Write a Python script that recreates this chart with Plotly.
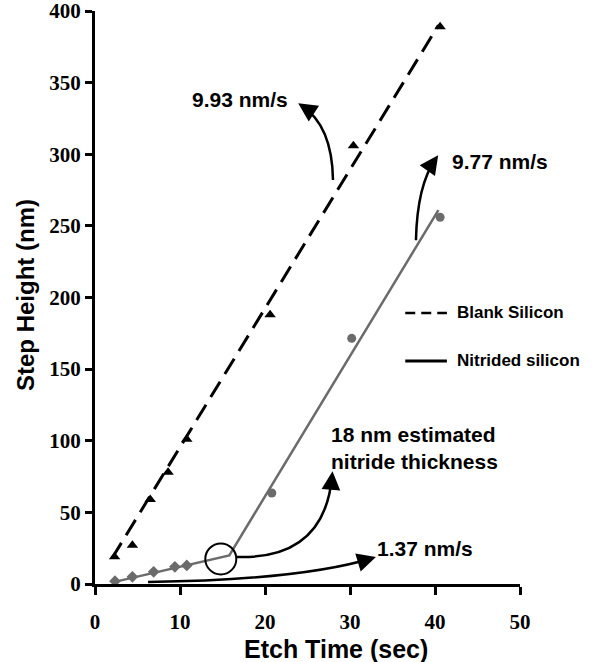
import math
import plotly.graph_objects as go

# ---- data ----
blank_x = [2.3, 4.4, 6.5, 8.6, 10.8, 20.6, 30.4, 40.6]
blank_y = [19, 27, 59, 78, 101, 188, 306, 389]
blank_fit_x = [2.0, 40.4]
blank_fit_y = [18, 390]

nit_diamond_x = [2.35, 4.4, 6.9, 9.4, 10.8]
nit_diamond_y = [2, 5, 8.5, 12, 13]
nit_circle_x = [20.8, 30.2, 40.6]
nit_circle_y = [63.5, 171.5, 256]
nit_fit_x = [2.3, 15.8, 40.4]
nit_fit_y = [1.5, 20, 261]

x_ticks = [0, 10, 20, 30, 40, 50]
y_ticks = [0, 50, 100, 150, 200, 250, 300, 350, 400]

GRAY = "#6b6b6b"
SANS = "Liberation Sans, Arial, sans-serif"
SERIF = "Liberation Serif, Times New Roman, serif"

W, H = 598, 662
ML, MR, MT, MB = 95, 78, 11, 78
XR, YR = (0, 50), (0, 400)
PW, PH = W - ML - MR, H - MT - MB
sx = PW / (XR[1] - XR[0])
sy = PH / (YR[1] - YR[0])


def px_to_paper(px, py):
    return (px - ML) / PW, (H - MB - py) / PH


fig = go.Figure()

fig.add_trace(go.Scatter(x=blank_fit_x, y=blank_fit_y, mode="lines",
                         line=dict(color="black", width=3, dash="18px,9px"),
                         showlegend=False, hoverinfo="skip"))
fig.add_trace(go.Scatter(x=blank_x, y=blank_y, mode="markers",
                         marker=dict(symbol="triangle-up", size=10, color="black"),
                         showlegend=False))
fig.add_trace(go.Scatter(x=nit_fit_x, y=nit_fit_y, mode="lines",
                         line=dict(color=GRAY, width=2.5),
                         showlegend=False, hoverinfo="skip"))
fig.add_trace(go.Scatter(x=nit_diamond_x, y=nit_diamond_y, mode="markers",
                         marker=dict(symbol="diamond", size=9, color=GRAY),
                         showlegend=False))
fig.add_trace(go.Scatter(x=nit_circle_x, y=nit_circle_y, mode="markers",
                         marker=dict(symbol="circle", size=9, color=GRAY),
                         showlegend=False))
# highlighted transition circle
fig.add_trace(go.Scatter(x=[14.8], y=[17.5], mode="markers",
                         marker=dict(symbol="circle-open", size=31, color="black",
                                     line=dict(color="black", width=2)),
                         showlegend=False, hoverinfo="skip"))

# curved arrows (quadratic bezier in data coords) + heads
curves = [
    ((28.0, 282), (27.9, 320), (24.3, 334)),
    ((37.76, 240), (37.9, 278.5), (40.1, 297)),
    ((16.6, 18.9), (27.06, 16.75), (27.9, 76)),
    ((6.24, 1.4), (24.1, 2.8), (32.6, 18)),
]
shapes = []
for p0, p1, p2 in curves:
    shapes.append(dict(type="path", xref="x", yref="y",
                       path=f"M {p0[0]},{p0[1]} Q {p1[0]},{p1[1]} {p2[0]},{p2[1]}",
                       line=dict(color="black", width=2.5)))

annotations = []
for p0, p1, p2 in curves:
    dxp = (p2[0] - p1[0]) * sx
    dyp = (p2[1] - p1[1]) * sy
    n = math.hypot(dxp, dyp)
    ux, uy = dxp / n, dyp / n
    ext = 4
    L = 16
    tx = p2[0] + ux * ext / sx
    ty = p2[1] + uy * ext / sy
    annotations.append(dict(x=tx, y=ty, ax=-ux * L, ay=uy * L,
                            xref="x", yref="y",
                            showarrow=True, arrowhead=2, arrowsize=1.5,
                            arrowwidth=2.5, arrowcolor="black", text=""))

txt = dict(family=SANS, size=21, color="black", weight="bold")
annotations += [
    dict(x=22.9, y=338, xref="x", yref="y", text="9.93 nm/s", showarrow=False,
         xanchor="right", yanchor="middle", font=txt),
    dict(x=41.76, y=294.6, xref="x", yref="y", text="9.77 nm/s", showarrow=False,
         xanchor="left", yanchor="middle", font=txt),
    dict(x=27.5, y=94.6, xref="x", yref="y",
         text="18 nm estimated<br>nitride thickness", showarrow=False,
         xanchor="left", yanchor="middle", align="left", font=txt),
    dict(x=32.9, y=25.1, xref="x", yref="y", text="1.37 nm/s", showarrow=False,
         xanchor="left", yanchor="middle", font=txt),
]

# legend (manual)
leg_font = dict(family=SANS, size=17, color="black", weight="bold")
shapes += [
    dict(type="line", xref="x", yref="y", x0=36.5, x1=41.4, y0=189.2, y1=189.2,
         line=dict(color="black", width=2.5, dash="10px,6px")),
    dict(type="line", xref="x", yref="y", x0=36.5, x1=41.4, y0=155.7, y1=155.7,
         line=dict(color="black", width=3)),
]
annotations += [
    dict(x=42.35, y=189.2, xref="x", yref="y", text="Blank Silicon", showarrow=False,
         xanchor="left", yanchor="middle", font=leg_font),
    dict(x=42.35, y=155.7, xref="x", yref="y", text="Nitrided silicon", showarrow=False,
         xanchor="left", yanchor="middle", font=leg_font),
]

# axis titles as annotations for exact placement
title_font = dict(family=SANS, size=25, color="black", weight="bold")
xtx, xty = px_to_paper(336, 649)
ytx, yty = px_to_paper(25, 295)
annotations += [
    dict(x=xtx, y=xty, xref="paper", yref="paper", text="Etch Time (sec)",
         showarrow=False, xanchor="center", yanchor="middle", font=title_font),
    dict(x=ytx, y=yty, xref="paper", yref="paper", text="Step Height (nm)",
         showarrow=False, xanchor="center", yanchor="middle", textangle=-90,
         font=dict(title_font, size=24)),
]

fig.update_layout(
    width=W, height=H,
    margin=dict(l=ML, r=MR, t=MT, b=MB, autoexpand=False),
    paper_bgcolor="white", plot_bgcolor="white",
    shapes=shapes, annotations=annotations,
    showlegend=False,
)
fig.update_xaxes(
    range=list(XR), tickvals=x_ticks, ticktext=[str(v) for v in x_ticks],
    automargin=False, ticklabeloverflow="allow",
    showgrid=False, zeroline=False, showline=True, linecolor="black", linewidth=3,
    ticks="outside", ticklen=8, tickwidth=3, tickcolor="black",
    ticklabelstandoff=9,
    tickfont=dict(family=SERIF, size=21, color="black", weight="bold"),
)
fig.update_yaxes(
    range=list(YR), tickvals=y_ticks, ticktext=[str(v) for v in y_ticks],
    automargin=False, ticklabeloverflow="allow",
    showgrid=False, zeroline=False, showline=True, linecolor="black", linewidth=3,
    ticks="outside", ticklen=7, tickwidth=3, tickcolor="black",
    ticklabelstandoff=0,
    tickfont=dict(family=SERIF, size=21, color="black", weight="bold"),
)

fig.write_html(
    "out.html",
    config={"displayModeBar": False},
    post_script="document.body.style.margin='0';document.body.style.padding='0';",
)
